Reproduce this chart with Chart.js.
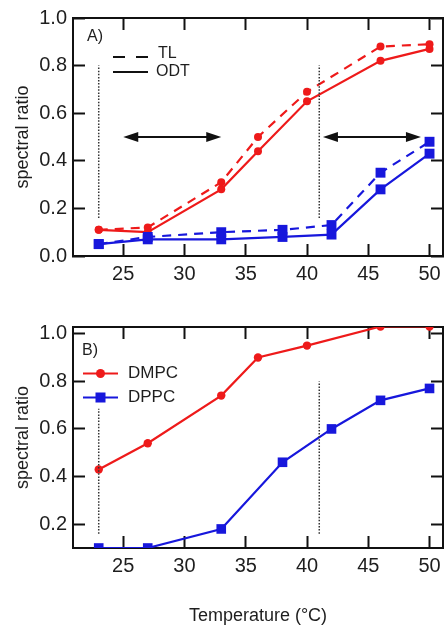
<!DOCTYPE html>
<html><head><meta charset="utf-8">
<script src="https://cdn.jsdelivr.net/npm/chart.js@4/dist/chart.umd.min.js"></script>
<style>
html,body{margin:0;padding:0;background:#fff;}
#wrap{position:relative;width:446px;height:627px;overflow:hidden;}
canvas{position:absolute;left:0;}
</style>
</head><body>
<div id="wrap">
<canvas id="cA" width="446" height="300" style="top:0;width:446px;height:300px"></canvas>
<canvas id="cB" width="446" height="327" style="top:300px;width:446px;height:327px"></canvas>
</div>
<script>
// ---- data ----
const tempsDMPC = [23, 27, 33, 36, 40, 46, 50];
const tempsDPPC = [23, 27, 33, 38, 42, 46, 50];
const dmpcTL  = [0.11, 0.12, 0.31, 0.50, 0.69, 0.88, 0.89];
const dmpcODT = [0.11, 0.10, 0.28, 0.44, 0.65, 0.82, 0.87];
const dppcTL  = [0.05, 0.08, 0.10, 0.11, 0.13, 0.35, 0.48];
const dppcODT = [0.05, 0.07, 0.07, 0.08, 0.09, 0.28, 0.43];
const dmpcB   = [0.43, 0.54, 0.74, 0.90, 0.95, 1.03, 1.03];
const dppcB   = [0.10, 0.10, 0.18, 0.46, 0.60, 0.72, 0.77];
const xTicks  = [25, 30, 35, 40, 45, 50];
const yTicksA = [0, 0.2, 0.4, 0.6, 0.8, 1.0];
const yTicksB = [0.2, 0.4, 0.6, 0.8, 1.0];
const guideX     = [23, 41];
const guideLowA  = [0.16, 0.16];
const guideHighA = [0.80, 0.80];
const guideLowB  = [0.16, 0.16];
const guideHighB = [0.685, 0.80];
const arrowY    = [0.5, 0.5];
const arrowFrom = [25, 41.3];
const arrowTo   = [33, 49.3];
const legendA = ['TL', 'ODT'];
const legendB = ['DMPC', 'DPPC'];

// ---- styling ----
const FONT = '"Liberation Sans", Arial, sans-serif';
const RED = '#ee1a1a';
const BLUE = '#1717dc';
const TXT = '#1e1e1e';
const AXIS = '#111';
const X_MIN = 20.9, X_MAX = 51.1;

function pts(xs, ys){ return xs.map((x,i)=>({x:x, y:ys[i]})); }
function series(xs, ys, color, dash, style, r){
  return {data: pts(xs, ys), borderColor: color, backgroundColor: color, borderWidth: 2.2,
    borderDash: dash, pointStyle: style, pointRadius: r, pointBorderWidth: 0, pointHoverRadius: r, tension: 0};
}
function guides(lo, hi){
  return guideX.map((gx,i)=>({data: [{x:gx, y:lo[i]},{x:gx, y:hi[i]}], borderColor:'#333', borderWidth:1.5,
    borderDash:[1.5,1.6], pointRadius:0, pointHoverRadius:0, tension:0}));
}
const gridIn = {display:true, drawOnChartArea:false, drawTicks:true, tickLength:-12, tickWidth:2, tickColor:AXIS};
const borderOn = {display:true, color:AXIS, width:2};

function xScale(withTitle, h){
  return {type:'linear', position:'bottom', min:X_MIN, max:X_MAX,
    afterBuildTicks: s=>{ s.ticks = xTicks.map(v=>({value:v})); },
    afterFit: s=>{ s.height = h; s.paddingLeft = 0; s.paddingRight = 0; },
    grid:gridIn, border:borderOn,
    ticks:{font:{family:FONT, size:20}, color:TXT, padding:18, maxRotation:0, autoSkip:false, callback:v=>String(v)},
    title: withTitle ? {display:true, text:'Temperature (°C)', font:{family:FONT, size:18}, color:TXT, padding:{top:0, bottom:0}} : {display:false}
  };
}
function xTop(){
  return {type:'linear', position:'top', min:X_MIN, max:X_MAX,
    afterBuildTicks: s=>{ s.ticks = xTicks.map(v=>({value:v})); },
    afterFit: s=>{ s.height = 0; s.paddingLeft = 0; s.paddingRight = 0; },
    grid:gridIn, border:borderOn, ticks:{display:false}};
}
function yScale(min, max, tk){
  return {type:'linear', position:'left', min:min, max:max,
    afterBuildTicks: s=>{ s.ticks = tk.map(v=>({value:v})); },
    afterFit: s=>{ s.width = 73; s.paddingTop = 0; s.paddingBottom = 0; },
    grid:gridIn, border:borderOn,
    ticks:{font:{family:FONT, size:20}, color:TXT, padding:18, autoSkip:false, callback:v=>Number(v).toFixed(1)},
    title:{display:true, text:'spectral ratio', font:{family:FONT, size:18}, color:TXT, padding:{top:12, bottom:0}}
  };
}
function yRight(min, max, tk){
  return {type:'linear', position:'right', min:min, max:max,
    afterBuildTicks: s=>{ s.ticks = tk.map(v=>({value:v})); },
    afterFit: s=>{ s.width = 0; s.paddingTop = 0; s.paddingBottom = 0; },
    grid:gridIn, border:borderOn, ticks:{display:false}};
}

function txt(ctx, s, x, y, size){
  ctx.font = size + 'px ' + FONT; ctx.fillStyle = TXT; ctx.textAlign = 'left'; ctx.textBaseline = 'middle';
  ctx.fillText(s, x, y);
}

const extrasA = {id:'extrasA', afterDatasetsDraw(chart){
  const ctx = chart.ctx, x = chart.scales.x, y = chart.scales.y;
  ctx.save();
  ctx.setLineDash([]);
  ctx.strokeStyle = AXIS; ctx.fillStyle = AXIS; ctx.lineWidth = 2;
  arrowY.forEach((v,i)=>{
    const py = y.getPixelForValue(v), x1 = x.getPixelForValue(arrowFrom[i]), x2 = x.getPixelForValue(arrowTo[i]);
    const hl = 15, hw = 5;
    ctx.beginPath(); ctx.moveTo(x1+hl-2, py); ctx.lineTo(x2-hl+2, py); ctx.stroke();
    ctx.beginPath(); ctx.moveTo(x1, py); ctx.lineTo(x1+hl, py-hw); ctx.lineTo(x1+hl, py+hw); ctx.closePath(); ctx.fill();
    ctx.beginPath(); ctx.moveTo(x2, py); ctx.lineTo(x2-hl, py-hw); ctx.lineTo(x2-hl, py+hw); ctx.closePath(); ctx.fill();
  });
  txt(ctx, 'A)', 87, 37, 16);
  ctx.strokeStyle = AXIS; ctx.lineWidth = 2;
  ctx.setLineDash([12, 11]); ctx.beginPath(); ctx.moveTo(113, 57); ctx.lineTo(148, 57); ctx.stroke();
  ctx.setLineDash([]); ctx.beginPath(); ctx.moveTo(113, 72); ctx.lineTo(148, 72); ctx.stroke();
  txt(ctx, legendA[0], 158, 54, 16);
  txt(ctx, legendA[1], 156, 71.5, 16);
  ctx.restore();
}};

const extrasB = {id:'extrasB', afterDatasetsDraw(chart){
  const ctx = chart.ctx;
  ctx.save();
  txt(ctx, 'B)', 82, 51, 16);
  ctx.setLineDash([]);
  ctx.lineWidth = 2;
  ctx.strokeStyle = RED; ctx.fillStyle = RED;
  ctx.beginPath(); ctx.moveTo(83, 73.5); ctx.lineTo(118, 73.5); ctx.stroke();
  ctx.beginPath(); ctx.arc(100.5, 73.5, 4.5, 0, Math.PI*2); ctx.fill();
  ctx.strokeStyle = BLUE; ctx.fillStyle = BLUE;
  ctx.beginPath(); ctx.moveTo(83, 97.5); ctx.lineTo(118, 97.5); ctx.stroke();
  ctx.fillRect(95.5, 92.5, 10, 10);
  txt(ctx, legendB[0], 128, 73.5, 17);
  txt(ctx, legendB[1], 128, 97, 17);
  ctx.restore();
}};

const common = {responsive:false, animation:false, devicePixelRatio:1,
  plugins:{legend:{display:false}, tooltip:{enabled:false}}, events:[]};

new Chart(document.getElementById('cA'), {
  type:'line',
  data:{datasets:[
    ...guides(guideLowA, guideHighA),
    series(tempsDPPC, dppcTL, BLUE, [9,7], 'rect', 7),
    series(tempsDPPC, dppcODT, BLUE, [], 'rect', 7),
    series(tempsDMPC, dmpcTL, RED, [9,7], 'circle', 4),
    series(tempsDMPC, dmpcODT, RED, [], 'circle', 4)
  ]},
  options:Object.assign({}, common, {
    layout:{autoPadding:false, padding:{top:18, right:3, bottom:0, left:0}},
    scales:{x:xScale(false, 44), x2:xTop(), y:yScale(0, 1.0, yTicksA), y2:yRight(0, 1.0, yTicksA)}
  }),
  plugins:[extrasA]
});

new Chart(document.getElementById('cB'), {
  type:'line',
  data:{datasets:[
    ...guides(guideLowB, guideHighB),
    series(tempsDPPC, dppcB, BLUE, [], 'rect', 6.8),
    series(tempsDMPC, dmpcB, RED, [], 'circle', 4.2)
  ]},
  options:Object.assign({}, common, {
    layout:{autoPadding:false, padding:{top:27, right:3, bottom:0, left:0}},
    scales:{x:xScale(true, 79), x2:xTop(), y:yScale(0.1, 1.028, yTicksB), y2:yRight(0.1, 1.028, yTicksB)}
  }),
  plugins:[extrasB]
});
</script>
</body></html>
